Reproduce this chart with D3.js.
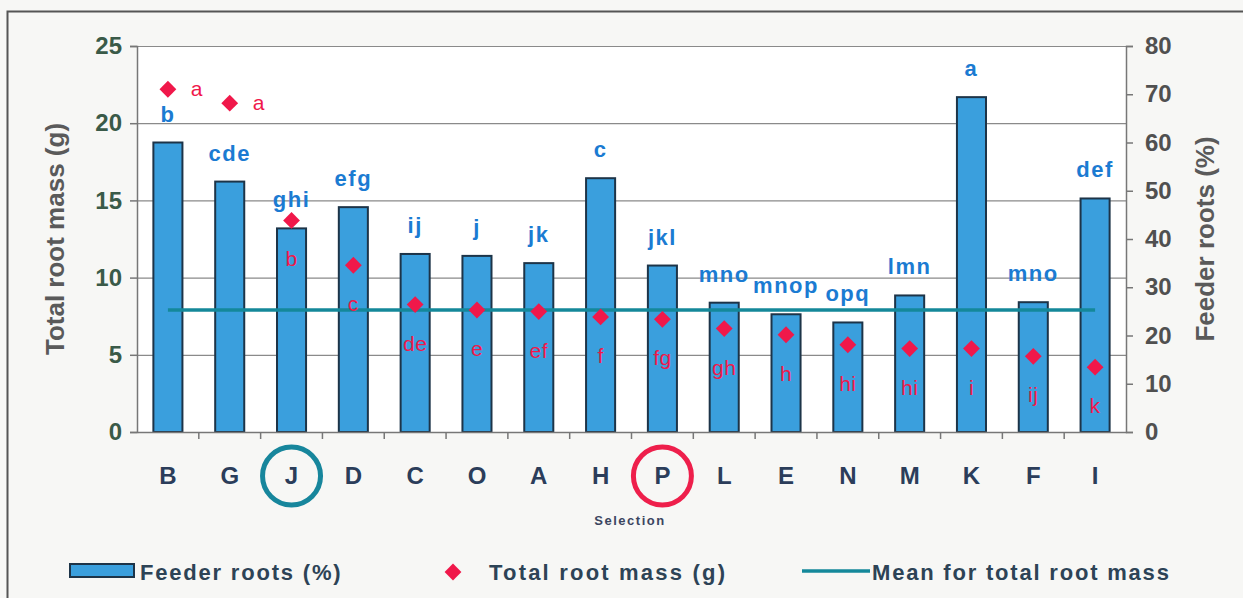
<!DOCTYPE html>
<html>
<head>
<meta charset="utf-8">
<script src="https://cdn.jsdelivr.net/npm/d3@7"></script>
<style>
  body { margin: 0; background: #f7f7f5; }
  svg { display: block; font-family: "Liberation Sans", Arial, sans-serif; }
</style>
</head>
<body>
<svg></svg>
<script>
// selections, in the order shown
let selections = ['B','G','J','D','C','O','A','H','P','L','E','N','M','K','F','I']
// feeder roots (%) - bars, right axis
let feederRoots = [60.0, 51.9, 42.2, 46.6, 36.9, 36.5, 35.0, 52.6, 34.5, 26.8, 24.4, 22.7, 28.3, 69.4, 26.9, 48.4]
let feederLetters = ['b','cde','ghi','efg','ij','j','jk','c','jkl','mno','mnop','opq','lmn','a','mno','def']
// total root mass (g) - diamonds, left axis
let rootMass = [22.2, 21.3, 13.7, 10.8, 8.25, 7.9, 7.8, 7.45, 7.3, 6.7, 6.3, 5.65, 5.4, 5.4, 4.9, 4.2]
let massLetters = ['a','a','b','c','de','e','ef','f','fg','gh','h','hi','hi','i','ij','k']
let meanMass = 7.9
let leftTicks = [0, 5, 10, 15, 20, 25]
let rightTicks = [0, 10, 20, 30, 40, 50, 60, 70, 80]
let circled = [{sel: 'J', color: '#17869c'}, {sel: 'P', color: '#ee1f4b'}]

let width = 1243
let height = 598
let plot = {left: 137, right: 1126, top: 46, bottom: 432}
let fontFam = '"Liberation Sans", Arial, sans-serif'

let svg = d3.select('svg').attr('width', width).attr('height', height)

// frame
svg.append('rect')
    .attr('x', 7.5).attr('y', 11.5)
    .attr('width', 1250).attr('height', 600)
    .attr('fill', '#f7f7f5')
    .attr('stroke', '#555').attr('stroke-width', 2)

svg.append('rect')
    .attr('x', plot.left).attr('y', plot.top)
    .attr('width', plot.right - plot.left).attr('height', plot.bottom - plot.top)
    .attr('fill', '#fff')

let xScale = d3.scaleBand().domain(selections).range([plot.left, plot.right])
let yLeft = d3.scaleLinear().domain([0, 25]).range([plot.bottom, plot.top])
let yRight = d3.scaleLinear().domain([0, 80]).range([plot.bottom, plot.top])
let cx = (d) => xScale(d) + xScale.bandwidth() / 2

// gridlines
svg.append('g')
    .selectAll('line')
    .data(leftTicks.filter(t => t > 0))
    .enter()
    .append('line')
    .attr('x1', plot.left).attr('x2', plot.right)
    .attr('y1', d => yLeft(d) + 0.5).attr('y2', d => yLeft(d) + 0.5)
    .attr('stroke', '#8a8a8a').attr('stroke-width', 1.2)

// bars
let barW = xScale.bandwidth() * 0.47
svg.append('g')
    .selectAll('rect')
    .data(selections)
    .enter()
    .append('rect')
    .attr('x', (d) => cx(d) - barW / 2)
    .attr('y', (d, i) => yRight(feederRoots[i]))
    .attr('width', barW)
    .attr('height', (d, i) => plot.bottom - yRight(feederRoots[i]))
    .attr('fill', '#3a9fdd')
    .attr('stroke', '#1d3448').attr('stroke-width', 2)

// mean line
svg.append('line')
    .attr('x1', cx(selections[0])).attr('x2', cx(selections[selections.length - 1]))
    .attr('y1', yLeft(meanMass)).attr('y2', yLeft(meanMass))
    .attr('stroke', '#14889a').attr('stroke-width', 3.5)

// diamonds
let diamond = d3.symbol().type(d3.symbolDiamond2).size(180)
svg.append('g')
    .selectAll('path')
    .data(selections)
    .enter()
    .append('path')
    .attr('d', diamond)
    .attr('transform', (d, i) => 'translate(' + cx(d) + ',' + yLeft(rootMass[i]) + ')')
    .attr('fill', '#f0184a')

// feeder letters (blue) above the bars
svg.append('g')
    .selectAll('text')
    .data(selections)
    .enter()
    .append('text')
    .attr('x', cx)
    .attr('y', (d, i) => yRight(feederRoots[i]) - 21)
    .attr('text-anchor', 'middle')
    .attr('font-size', 22).attr('font-weight', 'bold')
    .attr('letter-spacing', 1.5)
    .attr('fill', '#1b7bd2')
    .text((d, i) => feederLetters[i])

// mass letters (red): beside for the top two, below otherwise
svg.append('g')
    .selectAll('text')
    .data(selections)
    .enter()
    .append('text')
    .attr('x', (d, i) => i < 2 ? cx(d) + 29 : cx(d))
    .attr('y', (d, i) => i < 2 ? yLeft(rootMass[i]) + 7 : yLeft(rootMass[i]) + 46)
    .attr('text-anchor', 'middle')
    .attr('font-size', 21).attr('font-weight', 500)
    .attr('letter-spacing', 0.5)
    .attr('fill', '#f0184a')
    .text((d, i) => massLetters[i])

// left axis
let leftAxis = d3.axisLeft(yLeft).tickValues(leftTicks).tickSize(7).tickPadding(8)
let gl = svg.append('g')
    .attr('transform', 'translate(' + plot.left + ',0)')
    .call(leftAxis)
gl.select('.domain').attr('stroke', '#777').attr('stroke-width', 1.5)
gl.selectAll('.tick line').attr('stroke', '#777').attr('stroke-width', 1.5)
gl.selectAll('text')
    .attr('font-size', 24).attr('font-weight', 'bold')
    .attr('fill', '#3a5a48').attr('font-family', fontFam)

// right axis
let rightAxis = d3.axisRight(yRight).tickValues(rightTicks).tickSize(7).tickPadding(12)
let gr = svg.append('g')
    .attr('transform', 'translate(' + plot.right + ',0)')
    .call(rightAxis)
gr.select('.domain').attr('stroke', '#777').attr('stroke-width', 1.5)
gr.selectAll('.tick line').attr('stroke', '#777').attr('stroke-width', 1.5)
gr.selectAll('text')
    .attr('font-size', 24).attr('font-weight', 'bold')
    .attr('fill', '#505050').attr('font-family', fontFam)

// x axis, ticks between categories
let xAxis = d3.axisBottom(xScale).tickSize(0).tickPadding(35)
let gx = svg.append('g')
    .attr('transform', 'translate(0,' + plot.bottom + ')')
    .call(xAxis)
gx.select('.domain').attr('stroke', '#777').attr('stroke-width', 1.5)
gx.selectAll('text')
    .attr('font-size', 24).attr('font-weight', 'bold')
    .attr('fill', '#2b3d5a').attr('font-family', fontFam)
svg.append('g')
    .selectAll('line')
    .data(selections.slice(1))
    .enter()
    .append('line')
    .attr('x1', d => xScale(d)).attr('x2', d => xScale(d))
    .attr('y1', plot.bottom).attr('y2', plot.bottom + 7)
    .attr('stroke', '#777').attr('stroke-width', 1.5)

// circles around highlighted selections
svg.append('g')
    .selectAll('circle')
    .data(circled)
    .enter()
    .append('circle')
    .attr('cx', d => cx(d.sel))
    .attr('cy', 476)
    .attr('r', 29)
    .attr('fill', 'none')
    .attr('stroke', d => d.color).attr('stroke-width', 5)

// axis titles
svg.append('text')
    .attr('transform', 'translate(64,' + ((plot.top + plot.bottom) / 2) + ') rotate(-90)')
    .attr('text-anchor', 'middle')
    .attr('font-size', 26).attr('font-weight', 'bold')
    .attr('fill', '#5a5a5a')
    .text('Total root mass (g)')

svg.append('text')
    .attr('transform', 'translate(1214,' + ((plot.top + plot.bottom) / 2) + ') rotate(-90)')
    .attr('text-anchor', 'middle')
    .attr('font-size', 26).attr('font-weight', 'bold')
    .attr('fill', '#5a5a5a')
    .text('Feeder roots (%)')

svg.append('text')
    .attr('x', 630).attr('y', 525)
    .attr('text-anchor', 'middle')
    .attr('font-size', 13).attr('font-weight', 'bold')
    .attr('letter-spacing', 1.5)
    .attr('fill', '#3b4560')
    .text('Selection')

// legend
let legend = svg.append('g').attr('font-size', 22).attr('font-weight', 'bold').attr('fill', '#2d4356')
legend.append('rect')
    .attr('x', 70).attr('y', 564).attr('width', 64).attr('height', 13)
    .attr('fill', '#3a9fdd').attr('stroke', '#1d3448').attr('stroke-width', 2)
legend.append('text').attr('x', 140).attr('y', 580).attr('letter-spacing', 1.8).text('Feeder roots (%)')
legend.append('path')
    .attr('d', diamond)
    .attr('transform', 'translate(453,572)')
    .attr('fill', '#f0184a')
legend.append('text').attr('x', 489).attr('y', 580).attr('letter-spacing', 2.2).text('Total root mass (g)')
legend.append('line')
    .attr('x1', 802).attr('x2', 870).attr('y1', 571).attr('y2', 571)
    .attr('stroke', '#14889a').attr('stroke-width', 3.5)
legend.append('text').attr('x', 872).attr('y', 580).attr('letter-spacing', 1.8).text('Mean for total root mass')
</script>
</body>
</html>
